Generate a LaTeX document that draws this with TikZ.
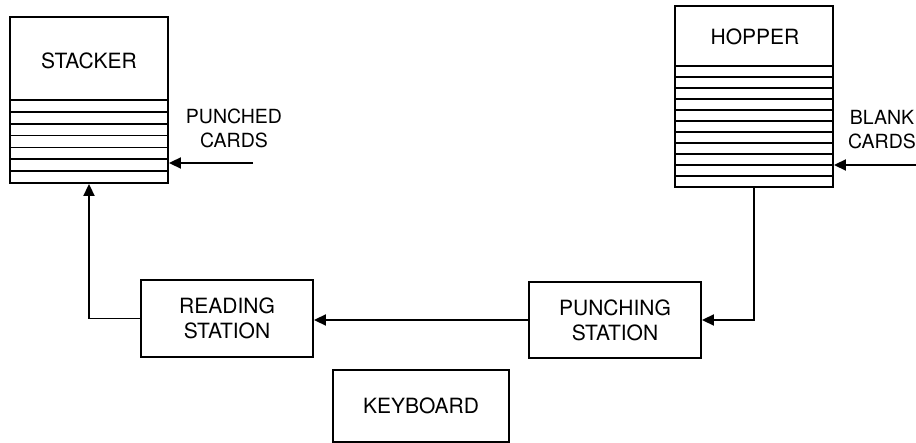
\documentclass[tikz,border=0pt]{standalone}
\usepackage{fontspec}
\setmainfont{TeX Gyre Heros}
\usetikzlibrary{arrows.meta,calc}
\begin{document}
\begin{tikzpicture}[x=1pt,y=-1pt,
  line width=1.9pt,
  every node/.style={font=\fontsize{21}{25}\selectfont},
  box/.style={draw,rectangle,inner sep=0pt,align=center},
  txt/.style={inner sep=0pt,align=center},
  side/.style={txt,font=\fontsize{19.5}{24}\selectfont},
  conn/.style={-{Triangle[length=12pt,width=11pt]}},
  card/.style={line width=1.6pt}]
\useasboundingbox[fill=white] (0,0) rectangle (916,443);
% stacker
\node[box,minimum width=158pt,minimum height=166pt] (stacker) at (89,100) {};
\node[txt] (stackerlbl) at (89,61) {STACKER};
\foreach \i in {0,...,6}{
  \draw[card] (10,{100+\i*11.86}) -- (168,{100+\i*11.86});
}
% hopper
\node[box,minimum width=158pt,minimum height=181pt] (hopper) at (754,96.5) {};
\node[txt] (hopperlbl) at (755,37) {HOPPER};
\foreach \i in {0,...,10}{
  \draw[card] (675,{66+\i*11}) -- (833,{66+\i*11});
}
% stations
\node[box,minimum width=172pt,minimum height=77pt] (reading) at (227,318.5) {READING\\STATION};
\node[box,minimum width=172pt,minimum height=76pt] (punching) at (615,320) {PUNCHING\\STATION};
\node[box,minimum width=176pt,minimum height=72pt] (keyboard) at (421,406) {KEYBOARD};
% labels
\node[side] (punchedlbl) at (234,128) {PUNCHED\\CARDS};
\node[side] (blanklbl) at (882,130) {BLANK\\CARDS};
% connectors
\coordinate (pcin) at (253,163);
\coordinate (bcin) at (916,165);
\draw[conn] (pcin) -- (pcin -| stacker.east);
\draw[conn] (bcin) -- (bcin -| hopper.east);
\draw[conn] (hopper.south) |- (punching.east);
\draw[conn] (punching.west) -- (punching.west -| reading.east);
\draw[conn] (reading.west) -| (stacker.south);
\end{tikzpicture}
\end{document}
